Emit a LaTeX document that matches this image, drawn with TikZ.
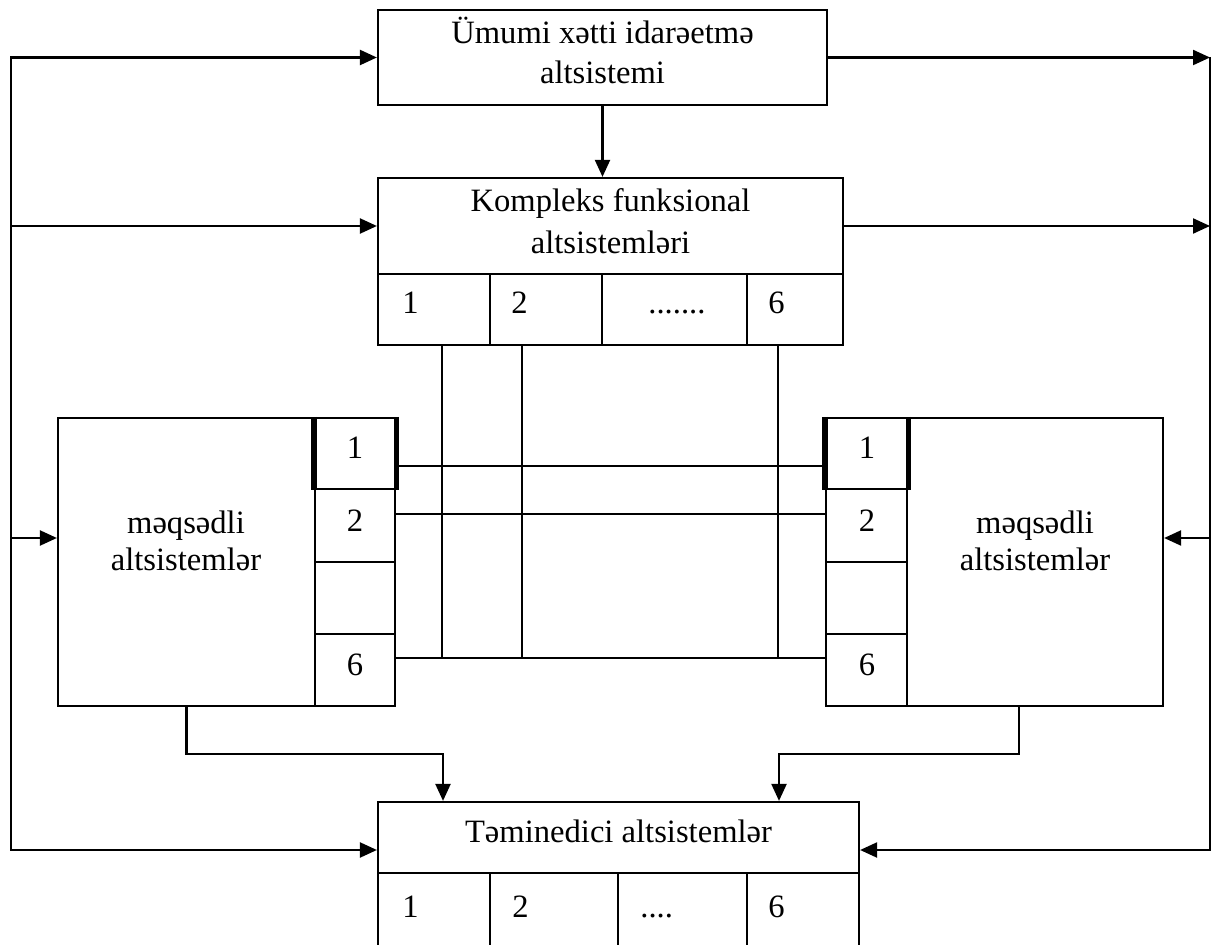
\documentclass[tikz,border=0pt]{standalone}
\usepackage{fontspec}
\setmainfont{Liberation Serif}
\usetikzlibrary{arrows.meta,fit}
\newcommand\diagfont{\fontsize{16.3pt}{18.5pt}\selectfont}

\begin{document}
\begin{tikzpicture}[x=0.5pt,y=-0.5pt,
  every node/.style={font=\diagfont},
  box/.style={draw, line width=1.1pt, inner sep=0pt, align=center},
  wire/.style={line width=1.1pt},
  arr/.style={wire, -{Triangle[length=8.5pt,width=7.5pt]}},
  heavy/.style={line width=2.6pt},
  lbl/.style={inner sep=0pt, anchor=base west},
  num/.style={inner sep=0pt, anchor=base}
]
\useasboundingbox (0,0) rectangle (1214,945);
\clip (0,0) rectangle (1214,945);

% general control subsystem
\node[box, fit={(378,10)(827,105)}] (gen) {};
\node[num] (gen1) at (602.5,44) {Ümumi xətti idarəetmə};
\node[num] (gen2) at (602.5,84) {altsistemi};

% complex of functional subsystems with its cells
\node[box, fit={(378,178)(843,274)}] (kfa) {};
\node[num] (kfa1) at (610.5,212) {Kompleks funksional};
\node[num] (kfa2) at (610.5,254) {altsistemləri};
\node[box, fit={(378,274)(490,345)}] (kc1) {};
\node[box, fit={(490,274)(602,345)}] (kc2) {};
\node[box, fit={(602,274)(747,345)}] (kc3) {};
\node[box, fit={(747,274)(843,345)}] (kc4) {};
\node[lbl] (kc1t) at (402,314) {1};
\node[lbl] (kc2t) at (511,314) {2};
\node[lbl] (kc3t) at (648,314) {.......};
\node[lbl] (kc4t) at (768,314) {6};

% left target subsystems
\node[box, fit={(58,418)(315,706)}] (lm) {};
\node[align=center, inner sep=0pt] (lmt) at (186,541) {məqsədli\\altsistemlər};
\node[box, fit={(315,418)(395,489)}] (lc1) {};
\node[box, fit={(315,489)(395,562)}] (lc2) {};
\node[box, fit={(315,562)(395,634)}] (lc3) {};
\node[box, fit={(315,634)(395,706)}] (lc4) {};
\node[num] (lc1t) at (355,459) {1};
\node[num] (lc2t) at (355,532) {2};
\node[num] (lc4t) at (355,675) {6};

% right target subsystems
\node[box, fit={(907,418)(1163,706)}] (rm) {};
\node[align=center, inner sep=0pt] (rmt) at (1035,541) {məqsədli\\altsistemlər};
\node[box, fit={(826,418)(907,489)}] (rc1) {};
\node[box, fit={(826,489)(907,562)}] (rc2) {};
\node[box, fit={(826,562)(907,634)}] (rc3) {};
\node[box, fit={(826,634)(907,706)}] (rc4) {};
\node[num] (rc1t) at (867,459) {1};
\node[num] (rc2t) at (867,532) {2};
\node[num] (rc4t) at (867,675) {6};

% supporting subsystems
\node[box, fit={(378,802)(859,873)}] (bt) {};
\node[num] (btt) at (618.5,842) {Təminedici altsistemlər};
\node[box, fit={(378,873)(490,960)}] (bc1) {};
\node[box, fit={(490,873)(618,960)}] (bc2) {};
\node[box, fit={(618,873)(747,960)}] (bc3) {};
\node[box, fit={(747,873)(859,960)}] (bc4) {};
\node[lbl] (bc1t) at (402,917) {1};
\node[lbl] (bc2t) at (512,917) {2};
\node[lbl] (bc3t) at (640,917) {....};
\node[lbl] (bc4t) at (768,917) {6};

% emphasised first cells
\draw[heavy] (lc1.north west) -- (lc1.south west);
\draw[heavy] (lc1.north east) -- (lc1.south east);
\draw[heavy] (rc1.north west) -- (rc1.south west);
\draw[heavy] (rc1.north east) -- (rc1.south east);

% cell-to-cell links
\coordinate (h1) at (0,466);
\coordinate (h2) at (0,514);
\coordinate (h6) at (0,658);
\coordinate (v1) at (442,0);
\coordinate (v2) at (522,0);
\coordinate (v3) at (778,0);
\draw[wire] (lc1.east |- h1) -- (rc1.west |- h1);
\draw[wire] (lc2.east |- h2) -- (rc2.west |- h2);
\draw[wire] (lc4.east |- h6) -- (rc4.west |- h6);
\draw[wire] (kc1.south -| v1) -- (v1 |- h6);
\draw[wire] (kc2.south -| v2) -- (v2 |- h6);
\draw[wire] (kc4.south -| v3) -- (v3 |- h6);

% side buses
\coordinate (lbus) at (11,0);
\coordinate (rbus) at (1210,0);
\coordinate (ly) at (0,538);
\coordinate (by) at (0,850);
\draw[arr] (lbus |- ly) -- (lbus |- gen.west) -- (gen.west);
\draw[arr] (lbus |- kfa.west) -- (kfa.west);
\draw[arr] (lbus |- ly) -- (lm.west |- ly);
\draw[arr] (lbus |- ly) -- (lbus |- by) -- (bt.west |- by);

\draw[arr] (gen.east) -- (rbus |- gen.east);
\draw[wire] (rbus |- gen.east) -- (rbus |- ly);
\draw[arr] (kfa.east) -- (rbus |- kfa.east);
\draw[arr] (rbus |- ly) -- (rm.east |- ly);
\draw[arr] (rbus |- ly) -- (rbus |- by) -- (bt.east |- by);

% top-down link
\draw[arr] (gen.south) -- (gen.south |- kfa.north);

% feeds into the supporting subsystems
\coordinate (fy) at (0,754);
\coordinate (bl) at (443,0);
\coordinate (rx) at (1019,0);
\coordinate (br) at (779,0);
\draw[arr] (lm.south) -- (lm.south |- fy) -- (bl |- fy) -- (bl |- bt.north);
\draw[arr] (rx |- rm.south) -- (rx |- fy) -- (br |- fy) -- (br |- bt.north);
\end{tikzpicture}
\end{document}
